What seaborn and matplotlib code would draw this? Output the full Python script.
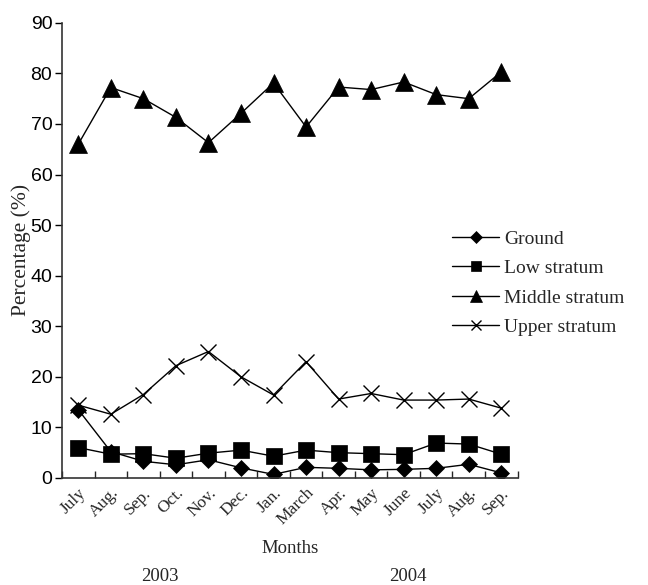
import matplotlib
matplotlib.use("Agg")
import matplotlib.pyplot as plt
import seaborn as sns
import numpy as np

months = ['July', 'Aug.', 'Sep.', 'Oct.', 'Nov.', 'Dec.', 'Jan.', 'March',
          'Apr.', 'May', 'June', 'July', 'Aug.', 'Sep.']
ground = [13.5, 5.2, 3.3, 2.6, 3.6, 2.0, 0.7, 2.1, 1.9, 1.6, 1.7, 1.9, 2.7, 1.0]
low = [6.0, 4.7, 4.8, 3.9, 4.9, 5.5, 4.3, 5.5, 5.0, 4.8, 4.6, 6.9, 6.7, 4.7]
middle = [66.0, 77.2, 75.0, 71.3, 66.3, 72.1, 78.1, 69.4, 77.3, 76.8, 78.3, 75.8, 75.0, 80.3]
upper = [14.4, 12.6, 16.5, 22.2, 25.0, 20.0, 16.4, 23.0, 15.6, 16.7, 15.4, 15.4, 15.6, 13.8]

sns.set_style("ticks")
serif = ['Liberation Serif', 'DejaVu Serif']
sans = ['Liberation Sans', 'DejaVu Sans']

fig = plt.figure(figsize=(6.48, 5.85), dpi=100)
ax = fig.add_axes([0.0957, 0.183, 0.703, 0.778])

x = np.arange(len(months))
series = [('Ground', ground, 'D', 8.5), ('Low stratum', low, 's', 11),
          ('Middle stratum', middle, '^', 13), ('Upper stratum', upper, 'x', 11)]
for name, vals, mk, ms in series:
    sns.lineplot(x=x, y=vals, ax=ax, color='black', lw=1, marker=mk, markersize=ms,
                 markeredgecolor='black', markerfacecolor='black',
                 mew=1 if mk == 'x' else 0.5, label=name)

ax.set_xlim(-0.5, len(months) - 0.5)
ax.set_ylim(0, 90)
ax.set_yticks(range(0, 91, 10))
for t in ax.get_yticklabels():
    t.set_family(sans)
    t.set_fontsize(14)
ax.tick_params(axis='y', direction='out', length=5, width=1, pad=2, colors='black')

# ticks sit between months, labels under each month
ax.set_xticks(np.arange(-0.5, len(months), 1.0))
ax.set_xticklabels([])
ax.set_xticks(x, minor=True)
ax.set_xticklabels(months, minor=True, rotation=45, ha='right', va='top',
                   rotation_mode='anchor', family=serif, fontsize=12.5)
ax.tick_params(axis='x', which='major', direction='in', length=5, width=1)
ax.tick_params(axis='x', which='minor', length=0, pad=5)

for s in ['top', 'right']:
    ax.spines[s].set_visible(False)
for s in ['left', 'bottom']:
    ax.spines[s].set_linewidth(1.2)
    ax.spines[s].set_color('#333333')

fig.text(0.033, 0.573, 'Percentage (%)', family=serif, fontsize=15.5,
         rotation=90, ha='center', va='center')
fig.text(0.4475, 0.062, 'Months', family=serif, fontsize=13.5, ha='center', va='center')
fig.text(0.247, 0.015, '2003', family=serif, fontsize=13.5, ha='center', va='center')
fig.text(0.63, 0.015, '2004', family=serif, fontsize=13.5, ha='center', va='center')

leg = ax.legend(loc='upper left', bbox_to_anchor=(0.857, 0.544), frameon=False,
                prop={'family': serif, 'size': 14}, handlelength=2.4,
                handletextpad=0.25, labelspacing=0.6, borderpad=0,
                borderaxespad=0, markerscale=0.68)

fig.savefig('out.png', dpi=100)
